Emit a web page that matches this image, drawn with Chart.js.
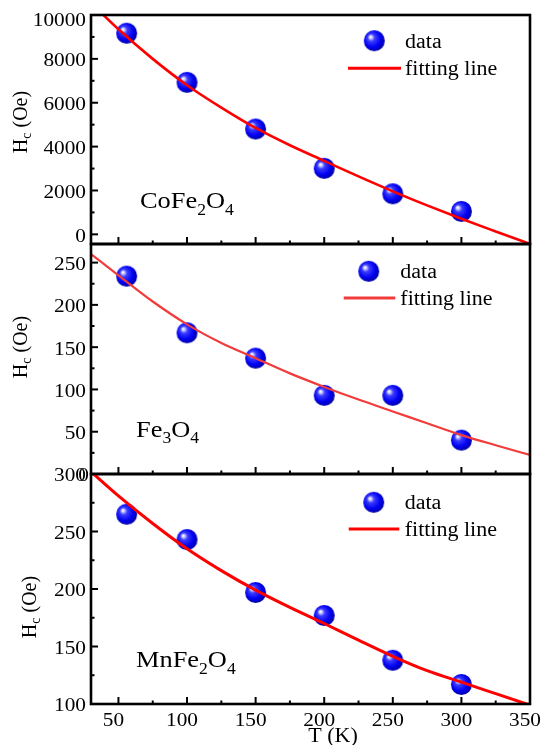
<!DOCTYPE html>
<html>
<head>
<meta charset="utf-8">
<script src="https://cdn.jsdelivr.net/npm/chart.js@4.4.1/dist/chart.umd.min.js"></script>
<style>
  html, body { margin: 0; padding: 0; background: #fff; }
  #wrap { position: relative; width: 544px; height: 745px; }
  #wrap canvas { position: absolute; left: 0; top: 0; }
</style>
</head>
<body>
<div id="wrap">
  <canvas id="coChart" width="544" height="745"></canvas>
  <canvas id="feChart" width="544" height="745"></canvas>
  <canvas id="mnChart" width="544" height="745"></canvas>
</div>
<script>
// measured coercivity (Oe) vs temperature (K)
const temps = [56, 100, 150, 200, 250, 300];
const coHc = [9170, 6930, 4800, 3010, 1850, 1045];
const feHc = [234, 167, 137, 93, 93, 40];
const mnHc = [265, 243, 197, 177, 138, 117];

// fitting curves
const fitT = [30, 50, 75, 100, 125, 150, 175, 200, 225, 250, 275, 300, 325, 350];
const coFit = [10550, 9350, 8000, 6800, 5780, 4850, 4060, 3350, 2640, 1960, 1320, 710, 130, -440];
const feFit = [260, 235, 204, 177, 155, 137, 119, 103, 88, 74, 60, 46, 34, 22.5];
const mnFit = [302, 281, 257, 235, 216, 199, 184, 170, 155.5, 141.5, 129, 119, 109, 99];

// tick labels
const xTicks = [50, 100, 150, 200, 250, 300, 350];
const coTicks = [0, 2000, 4000, 6000, 8000, 10000];
const feTicks = [0, 50, 100, 150, 200, 250];
const mnTicks = [100, 150, 200, 250, 300];

const PLOT_LEFT = 91;
const PLOT_RIGHT = 530;
const FONT = "'Liberation Serif', 'DejaVu Serif', serif";
const SX = 1.1;

function makeSphere(r) {
  const c = document.createElement('canvas');
  const size = Math.ceil(r * 2 + 2);
  c.width = size; c.height = size;
  const g = c.getContext('2d');
  const cx = size / 2, cy = size / 2;
  const grad = g.createRadialGradient(cx - r * 0.38, cy - r * 0.38, 0, cx - r * 0.1, cy - r * 0.1, r * 1.1);
  grad.addColorStop(0, '#ffffff');
  grad.addColorStop(0.1, '#e0e0ff');
  grad.addColorStop(0.32, '#3c3cff');
  grad.addColorStop(0.72, '#0000f2');
  grad.addColorStop(1, '#0000a6');
  g.fillStyle = grad;
  g.beginPath(); g.arc(cx, cy, r, 0, Math.PI * 2); g.fill();
  return c;
}
const sphere = makeSphere(10.5);

function text(ctx, str, x, y, size, align, base, sx) {
  ctx.save();
  ctx.font = size + 'px ' + FONT;
  ctx.fillStyle = '#000';
  ctx.textAlign = align || 'left';
  ctx.textBaseline = base || 'alphabetic';
  ctx.translate(x, y); ctx.scale(sx || SX, 1);
  ctx.fillText(str, 0, 0);
  ctx.restore();
}

// parts: [[text, isSub], ...]
function richWidth(ctx, parts, size, subSize, sx) {
  let w = 0;
  parts.forEach(([s, sub]) => {
    ctx.font = (sub ? subSize : size) + 'px ' + FONT;
    w += ctx.measureText(s).width * sx;
  });
  return w;
}
function richText(ctx, parts, x, y, size, subSize, drop, sx) {
  let cx = x;
  parts.forEach(([s, sub]) => {
    ctx.save();
    ctx.font = (sub ? subSize : size) + 'px ' + FONT;
    ctx.fillStyle = '#000';
    ctx.textAlign = 'left'; ctx.textBaseline = 'alphabetic';
    ctx.translate(cx, y + (sub ? drop : 0)); ctx.scale(sx, 1);
    ctx.fillText(s, 0, 0);
    cx += ctx.measureText(s).width * sx;
    ctx.restore();
  });
}

function minorOf(vals, scale) {
  const out = [];
  const step = vals[1] - vals[0];
  for (let i = -1; i < vals.length; i++) {
    const v = i < 0 ? vals[0] - step / 2 : vals[i] + step / 2;
    if (v > scale.min && v < scale.max) out.push(v);
  }
  return out;
}

function panelPlugin(p) {
  return {
    id: 'panel_' + p.id,
    afterDatasetsDraw(chart) {
      const { ctx, chartArea: a, scales: { x, y } } = chart;
      const line = (x1, y1, x2, y2) => { ctx.beginPath(); ctx.moveTo(x1, y1); ctx.lineTo(x2, y2); ctx.stroke(); };
      ctx.save();
      ctx.strokeStyle = '#000';
      ctx.lineWidth = 2;
      const xs = x.ticks.map(t => t.value);
      const ys = y.ticks.map(t => t.value);
      xs.forEach(v => { const px = x.getPixelForValue(v); line(px, a.bottom, px, a.bottom - 7); });
      minorOf(xs, x).forEach(v => { const px = x.getPixelForValue(v); line(px, a.bottom, px, a.bottom - 3.5); });
      ys.forEach(v => { const py = y.getPixelForValue(v); line(a.left, py, a.left + 7, py); });
      minorOf(ys, y).forEach(v => { const py = y.getPixelForValue(v); line(a.left, py, a.left + 3.5, py); });
      ctx.lineWidth = 2.6;
      ctx.strokeRect(a.left, a.top, a.right - a.left, a.bottom - a.top);
      ctx.restore();

      // tick labels
      ys.forEach(v => {
        const py = y.getPixelForValue(v) + (v === p.yMax && p.shiftTop ? 6 : 2.5);
        const dx = (v === 0 && p.nudgeZero) ? 3 : 0;
        text(ctx, String(v), a.left - 5 + dx, py, 19, 'right', 'middle', 1.12);
      });
      if (p.xLabels) {
        xs.forEach(v => text(ctx, String(v), x.getPixelForValue(v) - 5, 725.7, 19, 'center', 'alphabetic', 1.12));
        text(ctx, 'T (K)', 333, 741.7, 21, 'center', 'alphabetic', 1.05);
      }

      // y title, rotated
      const title = [['H', 0], ['c', 1], [' (Oe)', 0]];
      ctx.save();
      ctx.translate(p.titleX, p.titleY);
      ctx.rotate(-Math.PI / 2);
      const tw = richWidth(ctx, title, 20, 14, 1);
      richText(ctx, title, -tw / 2, 0, 20, 14, 4, 1);
      ctx.restore();

      // compound name
      richText(ctx, p.name, p.nameX, p.nameY, 24, 16, 6.7, SX);

      // legend
      const L = p.legend;
      ctx.drawImage(sphere, L.sx - sphere.width / 2, L.sy - sphere.height / 2);
      text(ctx, 'data', L.tx, L.dataY, 20, 'left', 'alphabetic', SX);
      ctx.save();
      ctx.strokeStyle = p.lineColor;
      ctx.lineWidth = 3;
      line(L.x1, L.ly, L.x2, L.ly);
      ctx.restore();
      text(ctx, 'fitting line', L.tx, L.fitY, 20, 'left', 'alphabetic', SX);
    },
  };
}

function buildChart(p) {
  return new Chart(document.getElementById(p.id), {
    type: 'line',
    data: {
      datasets: [
        {
          data: fitT.map((t, i) => ({ x: t, y: p.fit[i] })),
          borderColor: p.lineColor,
          borderWidth: p.lineWidth,
          pointRadius: 0,
          cubicInterpolationMode: 'monotone',
          fill: false,
        },
        {
          data: temps.map((t, i) => ({ x: t, y: p.values[i] })),
          showLine: false,
          pointStyle: sphere,
          pointRadius: 10,
          clip: false,
        },
      ],
    },
    options: {
      responsive: false,
      animation: false,
      events: [],
      layout: { autoPadding: false, padding: { left: 0, right: 544 - PLOT_RIGHT, top: p.top, bottom: 745 - p.bottom } },
      plugins: { legend: { display: false }, tooltip: { enabled: false } },
      scales: {
        x: {
          type: 'linear', min: 30, max: 350,
          ticks: { display: false },
          grid: { display: false }, border: { display: false },
          afterBuildTicks: (s) => { s.ticks = xTicks.map(v => ({ value: v })); },
          afterFit: (s) => { s.height = 0; },
        },
        y: {
          type: 'linear', min: p.yMin, max: p.yMax,
          ticks: { display: false },
          grid: { display: false }, border: { display: false },
          afterBuildTicks: (s) => { s.ticks = p.ticks.map(v => ({ value: v })); },
          afterFit: (s) => { s.width = PLOT_LEFT; },
        },
      },
    },
    plugins: [panelPlugin(p)],
  });
}

buildChart({
  id: 'coChart', top: 15, bottom: 244, yMin: -440, yMax: 10000, ticks: coTicks, shiftTop: true,
  values: coHc, fit: coFit, lineColor: '#ff0000', lineWidth: 2.6,
  name: [['CoFe', 0], ['2', 1], ['O', 0], ['4', 1]], nameX: 140, nameY: 208,
  titleX: 27, titleY: 122,
  legend: { sx: 374.3, sy: 40.7, tx: 405, dataY: 48.3, x1: 348, x2: 401, ly: 68.3, fitY: 75 },
});
buildChart({
  id: 'feChart', top: 244, bottom: 474, yMin: 0, yMax: 272, ticks: feTicks, nudgeZero: true,
  values: feHc, fit: feFit, lineColor: '#f23c3c', lineWidth: 2.2,
  name: [['Fe', 0], ['3', 1], ['O', 0], ['4', 1]], nameX: 136, nameY: 436.7,
  titleX: 27, titleY: 347,
  legend: { sx: 368.7, sy: 271.3, tx: 400.3, dataY: 278, x1: 343.7, x2: 395.3, ly: 298, fitY: 304.7 },
});
buildChart({
  id: 'mnChart', top: 474, bottom: 704, yMin: 100, yMax: 300, ticks: mnTicks, xLabels: true,
  values: mnHc, fit: mnFit, lineColor: '#ff0000', lineWidth: 3,
  name: [['MnFe', 0], ['2', 1], ['O', 0], ['4', 1]], nameX: 136, nameY: 667.3,
  titleX: 36, titleY: 607,
  legend: { sx: 373.7, sy: 502.3, tx: 404.7, dataY: 509, x1: 348.7, x2: 399.3, ly: 529, fitY: 535.7 },
});
</script>
</body>
</html>
